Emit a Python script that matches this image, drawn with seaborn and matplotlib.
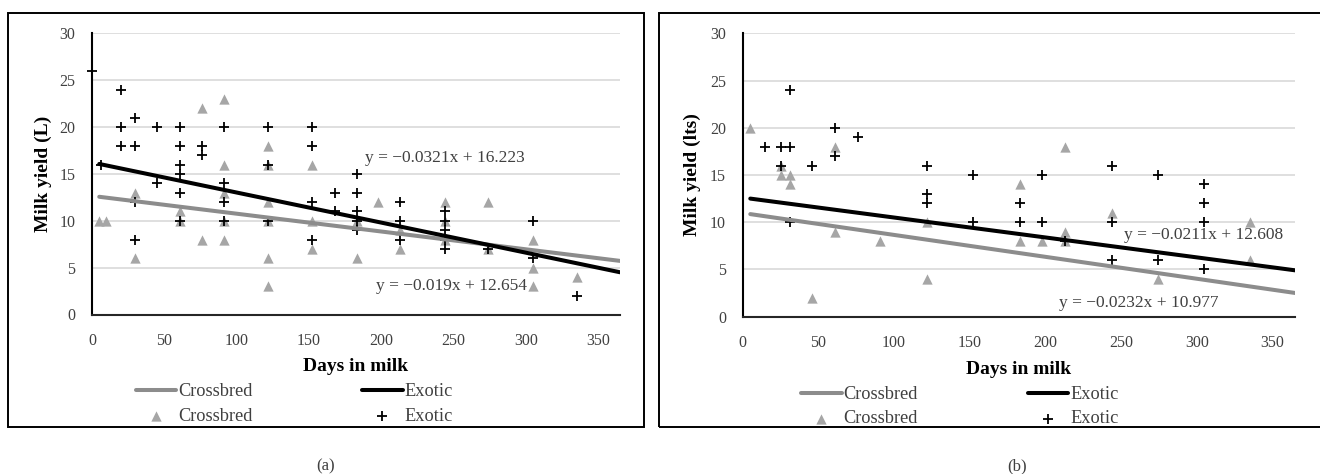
import numpy as np
import pandas as pd
import matplotlib
matplotlib.use("Agg")
import matplotlib.pyplot as plt
import seaborn as sns
from matplotlib.patches import Rectangle

# ---------------- data ----------------
# Panel (a)
a_cross_x = [5, 10, 30, 30, 61, 61, 76, 76, 91, 91, 91, 91, 91, 122, 122, 122, 122, 122, 122,
             152, 152, 152, 183, 183, 198, 213, 213, 244, 244, 244, 274, 274, 305, 305, 305, 335]
a_cross_y = [10, 10, 13, 6, 11, 10, 22, 8, 23, 16, 13, 10, 8, 18, 16, 12, 10, 6, 3,
             16, 10, 7, 10, 6, 12, 9, 7, 12, 10, 8, 12, 7, 8, 5, 3, 4]
a_exo_x = [0, 6, 20, 20, 20, 30, 30, 30, 30, 45, 45, 61, 61, 61, 61, 61, 61, 76, 76,
           91, 91, 91, 91, 122, 122, 122, 152, 152, 152, 152, 168, 168,
           183, 183, 183, 183, 183, 213, 213, 213, 244, 244, 244, 244, 244, 274, 305, 305, 335]
a_exo_y = [26, 16, 24, 20, 18, 21, 18, 12, 8, 20, 14, 20, 18, 16, 15, 13, 10, 18, 17,
           20, 14, 12, 10, 20, 16, 10, 20, 18, 12, 8, 13, 11,
           15, 13, 11, 10, 9, 12, 10, 8, 11, 10, 9, 8, 7, 7, 10, 6, 2]
a_slope = {"Crossbred": -0.019, "Exotic": -0.0321}
a_icpt = {"Crossbred": 12.654, "Exotic": 16.223}

# Panel (b)
b_cross_x = [5, 25, 25, 31, 31, 46, 61, 61, 91, 122, 122, 183, 183, 198, 213, 213, 213,
             244, 274, 335, 335]
b_cross_y = [20, 16, 15, 15, 14, 2, 18, 9, 8, 10, 4, 14, 8, 8, 18, 9, 8,
             11, 4, 10, 6]
b_exo_x = [15, 25, 25, 31, 31, 31, 46, 61, 61, 76, 122, 122, 122, 152, 152, 183, 183,
           198, 198, 213, 244, 244, 244, 274, 274, 305, 305, 305, 305]
b_exo_y = [18, 18, 16, 24, 18, 10, 16, 20, 17, 19, 16, 13, 12, 15, 10, 12, 10,
           15, 10, 8, 16, 10, 6, 15, 6, 14, 12, 10, 5]
b_slope = {"Crossbred": -0.0232, "Exotic": -0.0211}
b_icpt = {"Crossbred": 10.977, "Exotic": 12.608}

trend_x = [5, 365]
x_ticks = [0, 50, 100, 150, 200, 250, 300, 350]
y_ticks = [0, 5, 10, 15, 20, 25, 30]

# ---------------- style ----------------
sns.set_theme(style="white")
SERIF = ["Liberation Serif", "DejaVu Serif"]
plt.rcParams["font.family"] = SERIF

W, H = 1320, 474
fig = plt.figure(figsize=(W / 100, H / 100), dpi=100)

TRI_C = "#a6a6a6"
LINE_C = "#8c8c8c"
TXT_C = "#404040"


def fx(px):
    return px / W


def fy(py):
    return 1 - py / H


def panel(ax, cx, cy, ex, ey, slope, icpt, ylabel, eq_pos, leg_x):
    sns.scatterplot(x=cx, y=cy, ax=ax, marker="^", color=TRI_C, s=55, linewidth=0,
                    label="Crossbred", clip_on=False, zorder=3)
    sns.scatterplot(x=ex, y=ey, ax=ax, marker="+", color="black", s=55, linewidth=1.3,
                    label="Exotic", clip_on=False, zorder=4)
    for name, col in (("Crossbred", LINE_C), ("Exotic", "black")):
        ty = [slope[name] * v + icpt[name] for v in trend_x]
        sns.lineplot(x=trend_x, y=ty, ax=ax, color=col, linewidth=2.9,
                     label=name, zorder=5)
    ax.set_xlim(0, 365)
    ax.set_ylim(0, 30)
    ax.set_xticks(x_ticks)
    ax.set_yticks(y_ticks)
    ax.tick_params(length=0, labelsize=11.5, labelcolor=TXT_C)
    ax.tick_params(axis="x", pad=13)
    ax.tick_params(axis="y", pad=12)
    ax.yaxis.grid(True, color="#d9d9d9", linewidth=1.2)
    ax.xaxis.grid(False)
    ax.set_axisbelow(True)
    for s in ("top", "right"):
        ax.spines[s].set_visible(False)
    ax.spines["left"].set_color("black")
    ax.spines["left"].set_linewidth(1.5)
    ax.spines["bottom"].set_color("#262626")
    ax.spines["bottom"].set_linewidth(1.5)
    ax.set_xlabel("Days in milk", fontsize=14, fontweight="bold", color="black")
    ax.set_ylabel(ylabel, fontsize=14, fontweight="bold", color="black")
    ax.xaxis.set_label_coords(0.5, -0.155)
    ax.yaxis.set_label_coords(-0.075, 0.5)
    for (px, py, txt) in eq_pos:
        ax.text(px, py, txt, fontsize=12.5, color=TXT_C, va="center", ha="left", zorder=6)
    h, l = ax.get_legend_handles_labels()
    # handles order: tri cb, + ex, line cb, line ex -> arrange rows
    order = [2, 0, 3, 1]
    ax.legend([h[i] for i in order], [l[i] for i in order], ncol=2, loc="center",
              bbox_to_anchor=(leg_x, -0.318), frameon=False, fontsize=13.2,
              handlelength=2.2, handletextpad=0.1, columnspacing=6.0,
              labelspacing=0.4, borderpad=0, labelcolor=TXT_C)


ax_a = fig.add_axes([fx(92), fy(314.5), fx(528), 281.2 / H])
ax_b = fig.add_axes([fx(742.7), fy(316.7), fx(552.6), 283.4 / H])

panel(ax_a, a_cross_x, a_cross_y, a_exo_x, a_exo_y, a_slope, a_icpt, "Milk yield (L)",
      [(189, 16.7, "y = \u22120.0321x + 16.223"), (196, 3.0, "y = \u22120.019x + 12.654")],
      0.383)
panel(ax_b, b_cross_x, b_cross_y, b_exo_x, b_exo_y, b_slope, b_icpt, "Milk yield (lts)",
      [(252, 8.65, "y = \u22120.0211x + 12.608"), (209, 1.5, "y = \u22120.0232x + 10.977")],
      0.393)

# panel frames
fig.patches.append(Rectangle((fx(8), fy(427)), fx(636), 414 / H, transform=fig.transFigure,
                             fill=False, edgecolor="black", linewidth=1.4, zorder=0))
fig.patches.append(Rectangle((fx(659), fy(427)), fx(680), 414 / H, transform=fig.transFigure,
                             fill=False, edgecolor="black", linewidth=1.4, zorder=0))

fig.text(fx(326), fy(466), "(a)", fontsize=12, color=TXT_C, ha="center", va="center")
fig.text(fx(1017), fy(466), "(b)", fontsize=12, color=TXT_C, ha="center", va="center")

fig.savefig("out.png", dpi=100)
